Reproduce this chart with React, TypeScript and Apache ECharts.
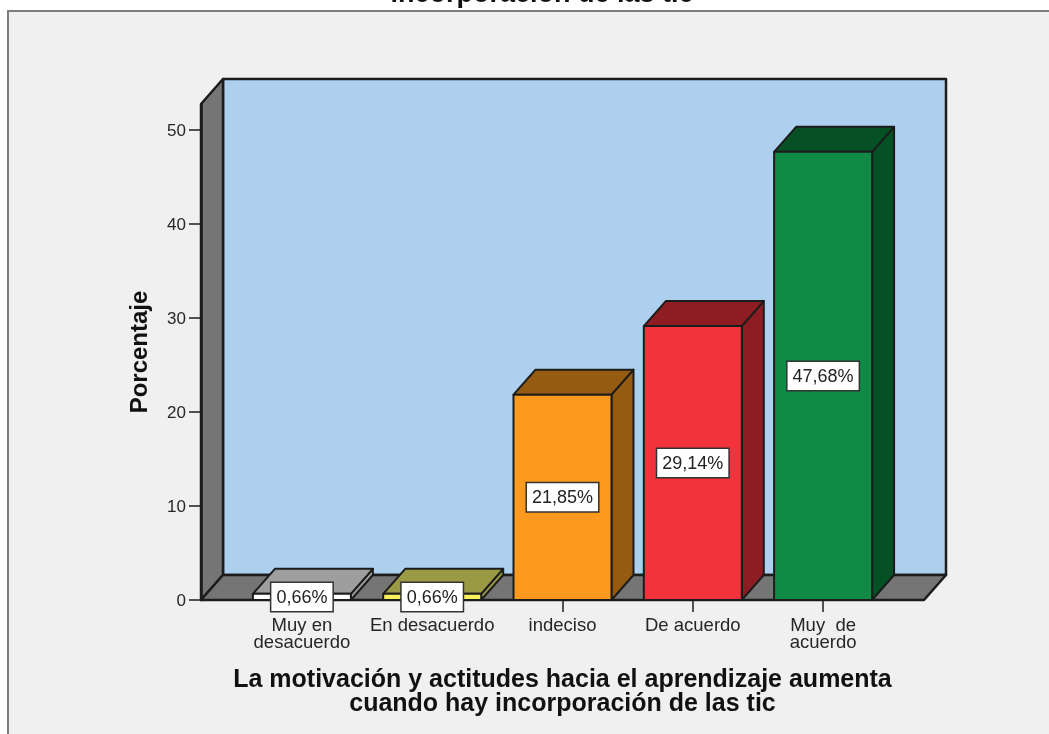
import React, { useEffect, useRef } from "react";
import * as echarts from "echarts";

const chartTitle = "incorporación de las tic";
const categories = ["Muy en\ndesacuerdo", "En desacuerdo", "indeciso", "De acuerdo", "Muy  de\nacuerdo"];
const percentages = [0.66, 0.66, 21.85, 29.14, 47.68];
const frontColors = ["#ffffff", "#f8f25f", "#fb9a1e", "#f2333b", "#0f8b46"];
const depthColors = ["#9e9e9e", "#9a9a44", "#955c11", "#8e1d23", "#065026"];
const yTicks = [0, 10, 20, 30, 40, 50];
const yName = "Porcentaje";
const xName = "La motivación y actitudes hacia el aprendizaje aumenta\ncuando hay incorporación de las tic";

const FONT = "'Liberation Sans', Arial, sans-serif";
const DEPTH_X = 22;
const DEPTH_Y = 25;
const INK = "#1c1c1c";

export default function App() {
  const ref = useRef<HTMLDivElement>(null);
  useEffect(() => {
    const chart = echarts.init(ref.current!, null, { renderer: "svg" });
    const wallLine = { stroke: INK, lineWidth: 2.5, lineJoin: "round" };
    chart.setOption({
      animation: false,
      backgroundColor: "#ffffff",
      title: {
        text: chartTitle,
        left: 537,
        top: -26,
        textAlign: "center",
        textStyle: { fontFamily: FONT, fontSize: 27, fontWeight: "bold", color: "#111" },
      },
      grid: { left: 236.75, width: 651.5, top: 104, height: 496 },
      graphic: [
        { type: "rect", z: -10, shape: { x: 8, y: 11, width: 1041, height: 723 }, style: { fill: "#f0f0f0" } },
        {
          type: "polyline",
          z: -9,
          shape: { points: [[8, 734], [8, 11], [1049, 11]] },
          style: { stroke: "#7d7d7d", lineWidth: 2, fill: "none" },
        },
        {
          type: "polygon",
          z: -8,
          shape: { points: [[223, 79], [946, 79], [946, 575], [223, 575]] },
          style: { fill: "#aed0ef", ...wallLine },
        },
        {
          type: "polygon",
          z: -7,
          shape: { points: [[201, 104], [223, 79], [223, 575], [201, 600]] },
          style: { fill: "#757575", ...wallLine },
        },
        {
          type: "polygon",
          z: -7,
          shape: { points: [[201, 600], [223, 575], [946, 575], [924, 600]] },
          style: { fill: "#757575", ...wallLine },
        },
      ],
      xAxis: {
        type: "category",
        data: categories,
        axisLine: { show: false },
        axisTick: { show: true, alignWithLabel: true, length: 12, lineStyle: { color: INK, width: 1.5 } },
        axisLabel: {
          interval: 0,
          margin: 16,
          fontFamily: FONT,
          fontSize: 18.5,
          lineHeight: 17,
          color: "#262626",
          hideOverlap: false,
        },
        name: xName,
        nameLocation: "middle",
        nameGap: 66,
        nameTextStyle: { fontFamily: FONT, fontSize: 25, fontWeight: "bold", color: "#111", lineHeight: 24 },
      },
      yAxis: {
        type: "value",
        min: 0,
        max: 52.77,
        offset: 35.75,
        splitLine: { show: false },
        axisLine: { show: true, lineStyle: { color: INK, width: 2.5 } },
        axisTick: { show: true, length: 12, customValues: yTicks, lineStyle: { color: INK, width: 1.5 } },
        axisLabel: {
          margin: 15,
          customValues: yTicks,
          fontFamily: FONT,
          fontSize: 17,
          color: "#262626",
        },
        name: yName,
        nameLocation: "middle",
        nameGap: 51,
        nameRotate: 90,
        nameTextStyle: { fontFamily: FONT, fontSize: 24, fontWeight: "bold", color: "#111" },
      },
      series: [
        {
          type: "custom",
          data: percentages.map((v, i) => [i, v]),
          encode: { x: 0, y: 1 },
          renderItem: (params: any, api: any) => {
            const i = api.value(0);
            const v = api.value(1);
            const [cx, top] = api.coord([i, v]);
            const [, base] = api.coord([i, 0]);
            const half = (api.size([1, 0])[0] * 0.752) / 2;
            const l = cx - half;
            const r = cx + half;
            const line = { stroke: INK, lineWidth: 2, lineJoin: "round" };
            return {
              type: "group",
              children: [
                {
                  type: "polygon",
                  shape: { points: [[r, top], [r + DEPTH_X, top - DEPTH_Y], [r + DEPTH_X, base - DEPTH_Y], [r, base]] },
                  style: { fill: depthColors[i], ...line },
                },
                {
                  type: "polygon",
                  shape: { points: [[l, top], [l + DEPTH_X, top - DEPTH_Y], [r + DEPTH_X, top - DEPTH_Y], [r, top]] },
                  style: { fill: depthColors[i], ...line },
                },
                {
                  type: "rect",
                  shape: { x: l, y: top, width: r - l, height: base - top },
                  style: { fill: frontColors[i], ...line },
                },
                {
                  type: "text",
                  style: {
                    text: v.toFixed(2).replace(".", ",") + "%",
                    x: cx,
                    y: (top + base) / 2,
                    align: "center",
                    verticalAlign: "middle",
                    fontFamily: FONT,
                    fontSize: 18,
                    lineHeight: 19,
                    fill: "#222",
                    backgroundColor: "#ffffff",
                    borderColor: "#333",
                    borderWidth: 1.5,
                    padding: [5, 5, 4, 5],
                  },
                },
              ],
            };
          },
        },
      ],
    });
    return () => chart.dispose();
  }, []);
  return (
    <div
      ref={ref}
      style={{ position: "absolute", left: 0, top: 0, width: 1049, height: 734, filter: "blur(0.4px)" }}
    />
  );
}
